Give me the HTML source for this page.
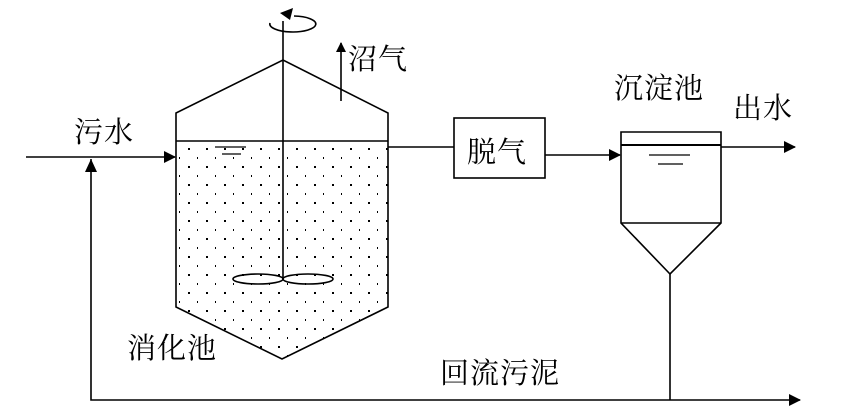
<!DOCTYPE html>
<html><head><meta charset="utf-8"><style>
body{margin:0;background:#fff}
svg{display:block}
text{font-family:"Liberation Serif","Noto Serif CJK SC",serif;font-size:29px;letter-spacing:1px;fill:#000}
</style></head><body>
<svg width="849" height="419" viewBox="0 0 849 419" xmlns="http://www.w3.org/2000/svg">
<defs>
<pattern id="dots" x="0" y="0" width="18" height="18" patternUnits="userSpaceOnUse">
<rect x="8" y="4" width="2" height="2" fill="#000"/>
<rect x="17" y="13" width="2" height="2" fill="#000"/>
</pattern>
<marker id="ah" markerWidth="10" markerHeight="10" refX="9" refY="5" orient="auto" markerUnits="userSpaceOnUse">
<path d="M0,0 L10,5 L0,10 z" fill="#000"/>
</marker>
<marker id="ah2" markerWidth="12" markerHeight="12" refX="11" refY="6" orient="auto" markerUnits="userSpaceOnUse">
<path d="M0,0 L12,6 L0,12 z" fill="#000"/>
</marker>
</defs>
<g stroke="#000" stroke-width="1.6" fill="none">
<path d="M176,141 L388,141 L388,307 L282,359 L176,307 Z" fill="url(#dots)" stroke="none"/>
<path d="M176,141 L176,113 L283,60 L388,113 L388,307 L282,359 L176,307 Z"/>
<line x1="176" y1="141" x2="388" y2="141"/>
<line x1="283" y1="21" x2="283" y2="279"/>
<ellipse cx="258" cy="279" rx="25" ry="5"/>
<ellipse cx="308" cy="279" rx="25" ry="5"/>
<path d="M270,23 A23,8 0 1 0 294,16"/>
<path d="M280,13 L293,8 L290,20 z" fill="#000" stroke="none"/>
<line x1="215" y1="147" x2="246" y2="147" stroke-width="1.2"/>
<line x1="222" y1="154" x2="241" y2="154" stroke-width="1.2"/>
<line x1="341" y1="101" x2="341" y2="43" marker-end="url(#ah)"/>
<line x1="26" y1="157" x2="175" y2="157" marker-end="url(#ah2)"/>
<line x1="388" y1="147" x2="454" y2="147"/>
<rect x="454" y="118" width="91" height="60"/>
<line x1="545" y1="155" x2="620" y2="155" marker-end="url(#ah2)"/>
<path d="M621,132 L721,132 L721,223 L670,274 L621,223 Z"/>
<line x1="621" y1="223" x2="721" y2="223"/>
<line x1="621" y1="145" x2="721" y2="145" stroke-width="2"/>
<line x1="649" y1="155" x2="690" y2="155" stroke-width="1.2"/>
<line x1="658" y1="164" x2="683" y2="164" stroke-width="1.2"/>
<line x1="721" y1="147" x2="795" y2="147" marker-end="url(#ah2)"/>
<line x1="670" y1="274" x2="670" y2="400"/>
<line x1="670" y1="400" x2="800" y2="400" marker-end="url(#ah2)"/>
<polyline points="670,400 91,400 91,159"/>
<path d="M91,159 L85,172 L97,172 z" fill="#000" stroke="none"/>
</g>
<text x="74" y="142">污水</text>
<text x="348" y="69">沼气</text>
<text x="467" y="162">脱气</text>
<text x="614" y="98">沉淀池</text>
<text x="733" y="118">出水</text>
<text x="127" y="358">消化池</text>
<text x="440" y="383">回流污泥</text>
</svg>
</body></html>
